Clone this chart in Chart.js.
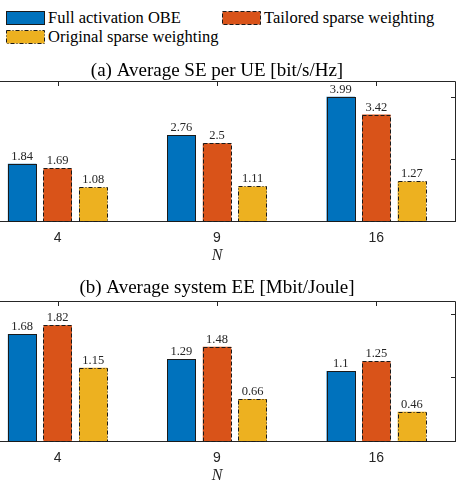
<!DOCTYPE html>
<html>
<head>
<meta charset="utf-8">
<script src="https://cdn.jsdelivr.net/npm/chart.js@4.4.1/dist/chart.umd.min.js"></script>
<style>
  html,body{margin:0;padding:0;background:#fff;}
  #wrap{position:relative;width:457px;height:480px;overflow:hidden;background:#fff;}
  #wrap canvas{position:absolute;}
  .lg{position:absolute;font-family:'Liberation Serif',serif;font-size:16.5px;color:#000;line-height:18px;white-space:nowrap;}
  .sw{position:absolute;}
</style>
</head>
<body>
<div id="wrap">
  <canvas id="ch_se" width="490" height="215" style="left:-30px;top:50px"></canvas>
  <canvas id="ch_ee" width="490" height="219" style="left:-30px;top:266px"></canvas>
</div>
<script>
// data
const categories  = ['4', '9', '16'];
const seriesNames = ['Full activation OBE', 'Tailored sparse weighting', 'Original sparse weighting'];

const seFull     = [1.84, 2.76, 3.99];
const seTailored = [1.69, 2.5, 3.42];
const seOriginal = [1.08, 1.11, 1.27];

const eeFull     = [1.68, 1.29, 1.1];
const eeTailored = [1.82, 1.48, 1.25];
const eeOriginal = [1.15, 0.66, 0.46];

const seTicks = [0, 2, 4];
const eeTicks = [0, 1, 2];

// matlab default colours + outline styles
const colors = ['#0072BD', '#D95319', '#EDB120'];
const dashes = [[], [4, 2], [4, 2, 1, 2]];
const AXIS = '#262626';

// legend (html, two columns like the figure)
const lgPos = [ {x:6, y:11}, {x:222, y:11}, {x:6, y:29.5} ];
const wrap = document.getElementById('wrap');
seriesNames.forEach((name, i) => {
  const p = lgPos[i];
  const da = dashes[i].length ? `stroke-dasharray="${dashes[i].join(' ')}"` : '';
  wrap.insertAdjacentHTML('beforeend',
    `<svg class="sw" style="left:${p.x}px;top:${p.y}px" width="39" height="14"><rect x="0.5" y="0.5" width="38" height="13" fill="${colors[i]}" stroke="#1a1a1a" ${da}/></svg>` +
    `<div class="lg" style="left:${p.x + 42}px;top:${p.y - 2}px">${name}</div>`);
});

// box + inward ticks (matlab style)
const frame = {
  id: 'frame',
  beforeDatasetsDraw(chart, args, opts){
    const {ctx, chartArea:a, scales:{x, y}} = chart;
    ctx.save();
    ctx.strokeStyle = AXIS; ctx.lineWidth = 1;
    ctx.beginPath();
    categories.forEach((c, i) => {
      const px = Math.round(x.getPixelForTick(i)) + 0.5;
      ctx.moveTo(px, a.top); ctx.lineTo(px, a.top + 5);
      ctx.moveTo(px, a.bottom); ctx.lineTo(px, a.bottom - 5);
    });
    (opts.yTicks || []).forEach(v => {
      const py = Math.round(y.getPixelForValue(v)) + 0.5;
      ctx.moveTo(a.right, py); ctx.lineTo(a.right - 5, py);
    });
    ctx.stroke();
    ctx.restore();
  },
  afterDatasetsDraw(chart){
    const {ctx, chartArea:a} = chart;
    ctx.save();
    ctx.strokeStyle = AXIS; ctx.lineWidth = 1;
    ctx.beginPath();
    const t = Math.round(a.top) + 0.5, b = Math.round(a.bottom) + 0.5, r = Math.round(a.right) - 0.5;
    ctx.moveTo(a.left, t); ctx.lineTo(r, t); ctx.lineTo(r, b); ctx.lineTo(a.left, b);
    ctx.stroke();
    ctx.restore();
  }
};

// dashed outlines + value labels above bars
const barDeco = {
  id: 'barDeco',
  afterDatasetsDraw(chart){
    const ctx = chart.ctx;
    chart.data.datasets.forEach((ds, di) => {
      chart.getDatasetMeta(di).data.forEach((bar, i) => {
        const {x, y, base, width} = bar.getProps(['x', 'y', 'base', 'width'], true);
        const l = Math.round(x - width / 2) + 0.5, tp = Math.round(y) + 0.5;
        ctx.save();
        ctx.strokeStyle = '#1a1a1a'; ctx.lineWidth = 1;
        ctx.setLineDash(dashes[di]);
        ctx.strokeRect(l, tp, Math.round(width), Math.round(base) - Math.round(y));
        ctx.restore();
        ctx.save();
        ctx.fillStyle = AXIS;
        ctx.font = "12.5px 'Liberation Serif', serif";
        ctx.textAlign = 'center'; ctx.textBaseline = 'alphabetic';
        ctx.fillText(String(ds.data[i]), x, y - 4);
        ctx.restore();
      });
    });
  }
};

function makeDatasets(vals){
  return vals.map((d, i) => ({ label: seriesNames[i], data: d, backgroundColor: colors[i], borderWidth: 0,
    categoryPercentage: 0.67, barPercentage: 0.8 }));
}

function makeChart(id, vals, title, yMax, yTicks, titlePad){
  return new Chart(document.getElementById(id), {
    type: 'bar',
    data: { labels: categories, datasets: makeDatasets(vals) },
    options: {
      responsive: false, animation: false,
      layout: { padding: { left: 8, right: 4, top: 0, bottom: 0 } },
      plugins: {
        legend: { display: false }, tooltip: { enabled: false },
        title: { display: true, text: title, color: '#000',
          font: { family: "'Liberation Serif', serif", size: 19, weight: 'normal', lineHeight: 1 }, padding: titlePad },
        frame: { yTicks }
      },
      scales: {
        x: { grid: { display: false, drawTicks: false }, border: { display: false },
          ticks: { color: AXIS, font: { family: "'Liberation Sans', sans-serif", size: 14 }, padding: 9 },
          title: { display: true, text: 'N', color: AXIS, padding: { top: 0, bottom: 0 },
            font: { family: "'Liberation Serif', serif", size: 16, style: 'italic', lineHeight: 1.1 } },
          afterFit: s => { s.height = 44; } },
        y: { display: false, min: 0, max: yMax }
      }
    },
    plugins: [frame, barDeco]
  });
}

makeChart('ch_se', [seFull, seTailored, seOriginal], '(a) Average SE per UE [bit/s/Hz]', 4.5, seTicks, { top: 12, bottom: 0 });
makeChart('ch_ee', [eeFull, eeTailored, eeOriginal], '(b) Average system EE [Mbit/Joule]', 2.2, eeTicks, { top: 12.5, bottom: 3.5 });
</script>
</body>
</html>
